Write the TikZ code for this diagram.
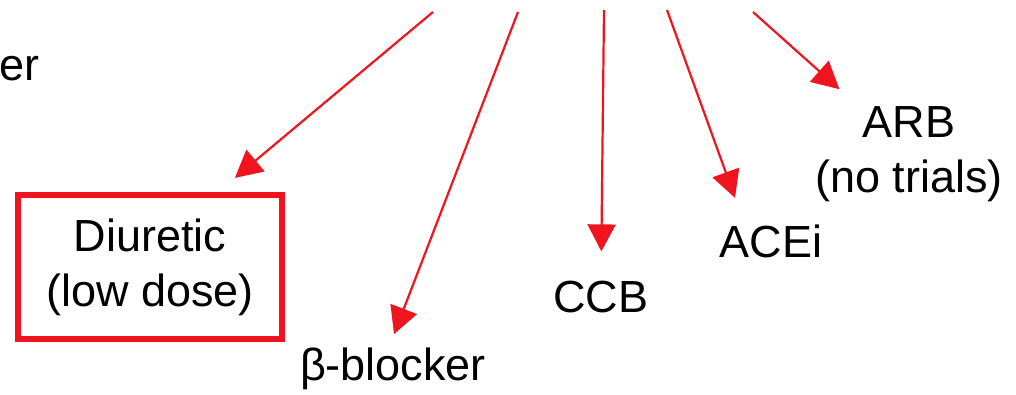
\documentclass[tikz,border=0pt]{standalone}
\usepackage{fontspec}
\setmainfont{Liberation Sans}
\usetikzlibrary{arrows.meta}
\definecolor{arrowred}{RGB}{240,20,30}
\begin{document}
\begin{tikzpicture}[x=1pt,y=-1pt,
  lbl/.style={font=\fontsize{45}{55}\selectfont, inner sep=0pt, align=center},
  arr/.style={draw=arrowred, line width=2.2pt, -{Triangle[length=27pt,width=28pt]}}]
  \useasboundingbox (0,0) rectangle (1016,394);
  \fill[white] (0,0) rectangle (1016,394);

  % drug classes
  \node[lbl, anchor=base west] (er) at (-1,80) {er};
  \node[lbl, draw=arrowred, line width=6pt, minimum width=264pt, minimum height=144pt]
    (diur) at (150,267) {Diuretic\\(low dose)};
  \node[lbl, anchor=base] (beta) at (393,380) {β-blocker};
  \node[lbl, anchor=base] (ccb) at (601,312) {CCB};
  \node[lbl, anchor=base] (acei) at (771,257) {ACEi};
  \node[lbl, anchor=base] (arb) at (909,192) {ARB\\(no trials)};

  % arrow origins
  \coordinate (s1) at (433,12);
  \coordinate (s2) at (518,12);
  \coordinate (s3) at (604,10);
  \coordinate (s4) at (667,10);
  \coordinate (s5) at (753,12);

  \draw[arr, shorten >=22pt] (s1) -- ([xshift=68pt]diur.north);
  \draw[arr, shorten >=14pt] (s2) -- ([xshift=-4pt]beta.north);
  \draw[arr, shorten >=29pt] (s3) -- (ccb.north);
  \draw[arr, shorten >=28pt] (s4) -- ([xshift=25pt]acei.north west);
  \draw[arr, shorten >=25pt] (s5) -- ([xshift=43pt]arb.north west);
\end{tikzpicture}
\end{document}
